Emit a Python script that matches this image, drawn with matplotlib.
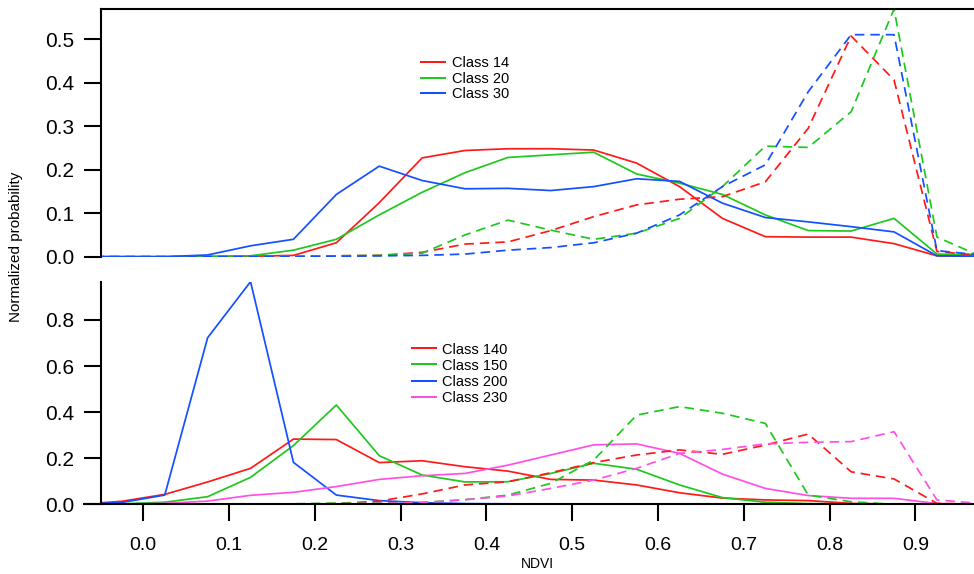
import matplotlib
matplotlib.use("Agg")
import matplotlib.pyplot as plt
from matplotlib.ticker import FixedLocator, FormatStrFormatter

plt.rcParams['font.family'] = ['Liberation Sans', 'DejaVu Sans']

# NDVI bin centres
ndvi = [-0.075, -0.025, 0.025, 0.075, 0.125, 0.175, 0.225, 0.275, 0.325, 0.375, 0.425,
        0.475, 0.525, 0.575, 0.625, 0.675, 0.725, 0.775, 0.825, 0.875, 0.925, 0.975]

# Upper panel: classes 14, 20, 30 (solid and dashed profiles)
c14_solid = [0, 0, 0, 0, 0.001, 0.003, 0.032, 0.124, 0.227, 0.244, 0.248,
             0.248, 0.245, 0.215, 0.161, 0.088, 0.046, 0.045, 0.045, 0.030, 0.002, 0.001]
c20_solid = [0, 0, 0, 0.001, 0.002, 0.015, 0.040, 0.096, 0.148, 0.193, 0.228,
             0.234, 0.240, 0.190, 0.169, 0.143, 0.096, 0.060, 0.059, 0.088, 0.006, 0.004]
c30_solid = [0, 0, 0, 0.004, 0.025, 0.040, 0.143, 0.208, 0.175, 0.156, 0.157,
             0.152, 0.161, 0.179, 0.173, 0.123, 0.090, 0.080, 0.069, 0.057, 0.002, 0.001]
c14_dash = [0, 0, 0, 0, 0, 0.001, 0.002, 0.003, 0.010, 0.029, 0.034,
            0.060, 0.092, 0.119, 0.132, 0.138, 0.172, 0.295, 0.507, 0.406, 0.012, 0.003]
c20_dash = [0, 0, 0, 0, 0, 0.001, 0.002, 0.003, 0.008, 0.050, 0.084,
            0.061, 0.040, 0.054, 0.088, 0.161, 0.254, 0.251, 0.333, 0.569, 0.045, 0.002]
c30_dash = [0, 0, 0, 0, 0, 0, 0.001, 0.002, 0.003, 0.006, 0.015,
            0.021, 0.032, 0.054, 0.096, 0.161, 0.211, 0.379, 0.510, 0.510, 0.014, 0.004]

# Lower panel: classes 140, 150, 200, 230
c140_solid = [0, 0.013, 0.043, 0.097, 0.156, 0.283, 0.281, 0.181, 0.189, 0.163, 0.144,
              0.108, 0.105, 0.084, 0.050, 0.027, 0.019, 0.016, 0.004, 0.001, 0, 0]
c150_solid = [0, 0.002, 0.009, 0.033, 0.117, 0.255, 0.431, 0.211, 0.127, 0.097, 0.098,
              0.134, 0.178, 0.152, 0.084, 0.029, 0.009, 0.003, 0.001, 0, 0, 0]
c200_solid = [0, 0.008, 0.040, 0.723, 0.966, 0.182, 0.040, 0.016, 0.007, 0.003, 0.002,
              0.001, 0, 0, 0, 0, 0, 0, 0, 0, 0, 0]
c230_solid = [0, 0, 0.004, 0.014, 0.039, 0.052, 0.077, 0.108, 0.124, 0.134, 0.170,
              0.214, 0.258, 0.262, 0.221, 0.131, 0.069, 0.038, 0.026, 0.026, 0.003, 0.001]
c140_dash = [0, 0, 0, 0, 0, 0.001, 0.003, 0.014, 0.045, 0.084, 0.098,
             0.137, 0.181, 0.214, 0.236, 0.217, 0.257, 0.305, 0.141, 0.110, 0.004, 0]
c150_dash = [0, 0, 0, 0, 0, 0.002, 0.005, 0.005, 0.008, 0.020, 0.040,
             0.091, 0.192, 0.387, 0.424, 0.395, 0.351, 0.040, 0.011, 0, 0, 0]
c230_dash = [0, 0, 0, 0, 0, 0, 0.002, 0.004, 0.007, 0.020, 0.036,
             0.069, 0.105, 0.156, 0.221, 0.238, 0.262, 0.269, 0.272, 0.315, 0.019, 0.004]

upper_labels = ["Class 14", "Class 20", "Class 30"]
lower_labels = ["Class 140", "Class 150", "Class 200", "Class 230"]
upper_ticks = [0.0, 0.1, 0.2, 0.3, 0.4, 0.5]
lower_ticks = [0.0, 0.2, 0.4, 0.6, 0.8]
x_ticks = [0.0, 0.1, 0.2, 0.3, 0.4, 0.5, 0.6, 0.7, 0.8, 0.9]

RED, GREEN, BLUE, PINK = '#ff1a1a', '#1ec81e', '#1450ff', '#ff50e6'
DASH = (0, (5.5, 3.4))
LW = 1.25
SPINE_W = 1.5

W, H = 974, 574
fig = plt.figure(figsize=(W / 100, H / 100), dpi=100)


def rect(left, top, right, bottom):
    return [left / W, 1 - bottom / H, (right - left) / W, (bottom - top) / H]


ax1 = fig.add_axes(rect(101, 9, 974, 256.7))
ax2 = fig.add_axes(rect(101, 281.7, 974, 504.3))

xlim = (-0.0493, 0.9682)

# upper panel
for ys, c in zip([c14_solid, c20_solid, c30_solid], [RED, GREEN, BLUE]):
    ax1.plot(ndvi, ys, color=c, lw=LW)
for ys, c in zip([c14_dash, c20_dash, c30_dash], [RED, GREEN, BLUE]):
    ax1.plot(ndvi, ys, color=c, lw=LW, linestyle=DASH)
ax1.set_xlim(*xlim)
ax1.set_ylim(0, max(c20_dash))
ax1.spines['right'].set_visible(False)
ax1.spines['bottom'].set_visible(False)
ax1.spines['left'].set_linewidth(SPINE_W)
ax1.spines['top'].set_linewidth(SPINE_W)
ax1.set_xticks([])
ax1.yaxis.set_major_locator(FixedLocator(upper_ticks))
ax1.yaxis.set_major_formatter(FormatStrFormatter('%.1f'))

# lower panel
for ys, c in zip([c140_solid, c150_solid, c200_solid, c230_solid], [RED, GREEN, BLUE, PINK]):
    ax2.plot(ndvi, ys, color=c, lw=LW)
for ys, c in zip([c140_dash, c150_dash, c230_dash], [RED, GREEN, PINK]):
    ax2.plot(ndvi, ys, color=c, lw=LW, linestyle=DASH)
ax2.set_xlim(*xlim)
ax2.set_ylim(0, max(c200_solid))
ax2.spines['right'].set_visible(False)
ax2.spines['top'].set_visible(False)
ax2.spines['left'].set_linewidth(SPINE_W)
ax2.spines['bottom'].set_linewidth(SPINE_W)
ax2.yaxis.set_major_locator(FixedLocator(lower_ticks))
ax2.yaxis.set_major_formatter(FormatStrFormatter('%.1f'))
ax2.xaxis.set_major_locator(FixedLocator(x_ticks))
ax2.xaxis.set_major_formatter(FormatStrFormatter('%.1f'))
# bottom axis line runs a little past the left axis
ax2.plot([-18 / 873, 0], [0, 0], transform=ax2.transAxes, color='black',
         lw=SPINE_W, clip_on=False, solid_capstyle='butt')

for ax in (ax1, ax2):
    ax.tick_params(axis='y', direction='out', length=12.5, width=SPINE_W,
                   pad=6.5, labelsize=15)
ax2.tick_params(axis='x', direction='out', length=12.5, width=SPINE_W,
                pad=11, labelsize=14)

ax2.set_xlabel("NDVI", fontsize=10, labelpad=2)
fig.text(16.5 / W, 1 - 246.5 / H, "Normalized probability", rotation=90,
         ha='center', va='center', fontsize=11)


def key(rows, colors, labels, x0, x1, xt):
    for y, c, lab in zip(rows, colors, labels):
        fig.add_artist(plt.Line2D([x0 / W, x1 / W], [1 - y / H, 1 - y / H],
                                  color=c, lw=LW + 0.2, transform=fig.transFigure))
        fig.text(xt / W, 1 - (y + 5.2) / H, lab, ha='left', va='baseline',
                 fontsize=10.5)


key([62, 77.6, 93.3], [RED, GREEN, BLUE], upper_labels, 421, 445, 451.5)
key([348.3, 364.3, 380.7, 396.7], [RED, GREEN, BLUE, PINK], lower_labels, 411.7, 435.7, 441.5)

fig.savefig("out.png", dpi=100)
